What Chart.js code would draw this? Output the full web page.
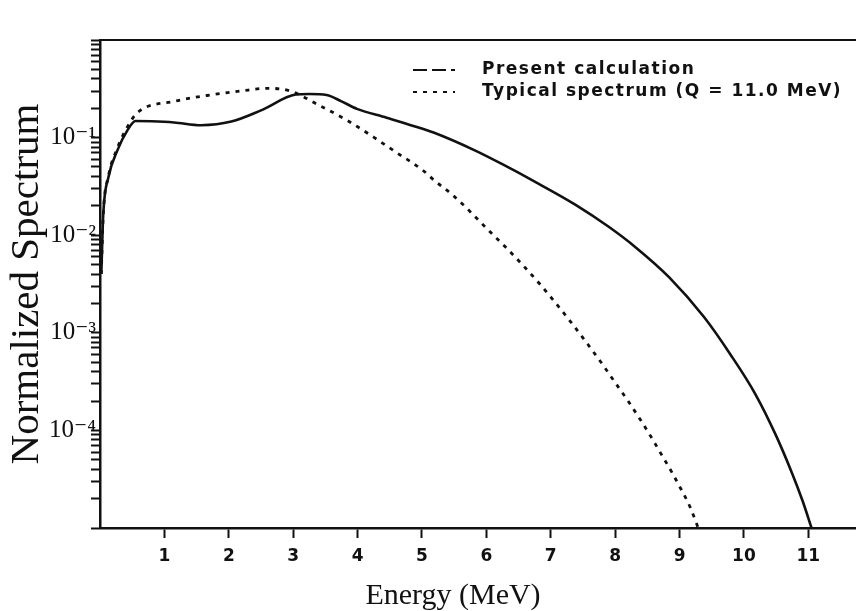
<!DOCTYPE html>
<html>
<head>
<meta charset="utf-8">
<script src="https://cdn.jsdelivr.net/npm/chart.js@4.4.1/dist/chart.umd.min.js"></script>
<style>
  body { margin: 0; background: #fff; }
  canvas { display: block; background: #fff; }
</style>
</head>
<body>
<canvas id="spectrumChart" width="856" height="611"></canvas>
<script>
// values
const presentEnergy = [0.02, 0.05, 0.13, 0.27, 0.43, 0.55, 0.8, 1.15, 1.57, 2.04, 2.5, 3.04, 3.25, 3.52, 3.75, 3.99, 4.45, 4.88, 5.19, 5.82, 6.24, 6.8, 7.38, 7.9, 8.32, 8.84, 9.38, 9.79, 10.17, 10.49, 10.75, 10.91, 11.05];
const presentValues = [0.004, 0.016, 0.039, 0.074, 0.12, 0.148, 0.147, 0.143, 0.134, 0.146, 0.19, 0.276, 0.28, 0.273, 0.235, 0.197, 0.16, 0.131, 0.112, 0.074, 0.0537, 0.034, 0.0206, 0.0122, 0.0075, 0.0037, 0.00145, 0.0006, 0.00024, 0.000091, 0.000036, 0.000019, 0.00001];

const typicalEnergy = [0.02, 0.05, 0.13, 0.27, 0.43, 0.58, 1.15, 1.66, 2.19, 2.59, 2.96, 3.37, 3.84, 4.26, 4.58, 5.0, 5.2, 5.47, 5.72, 5.99, 6.31, 6.57, 6.83, 7.02, 7.3, 7.6, 7.81, 8.0, 8.2, 8.39, 8.57, 8.73, 8.89, 9.03, 9.16, 9.29];
const typicalValues = [0.004, 0.016, 0.04, 0.078, 0.13, 0.18, 0.235, 0.27, 0.30, 0.32, 0.30, 0.22, 0.15, 0.10, 0.072, 0.047, 0.036, 0.026, 0.0182, 0.012, 0.00741, 0.0049, 0.00316, 0.00224, 0.00132, 0.000724, 0.000468, 0.000309, 0.0002, 0.000129, 0.0000832, 0.000055, 0.0000363, 0.0000245, 0.0000166, 0.00001];

const xTickLabels = ["", "1", "2", "3", "4", "5", "6", "7", "8", "9", "10", "11"];
const yDecades = [-5, -4, -3, -2, -1];
const yLabelExponents = [-1, -2, -3, -4];
const seriesLabels = ["Present calculation", "Typical spectrum (Q = 11.0 MeV)"];
const xAxisTitle = "Energy (MeV)";
const yAxisTitle = "Normalized Spectrum";

const ink = "#111";
const serif = "'Liberation Serif', 'DejaVu Serif', serif";

function toPairs(xs, ys) {
    return xs.map((x, i) => ({ x: x, y: ys[i] }));
}

function superscript(n) {
    const digits = "⁰¹²³⁴⁵⁶⁷⁸⁹";
    let s = String(Math.abs(n)).split("").map(d => digits[+d]).join("");
    return (n < 0 ? "⁻" : "") + s;
}

// top frame line and the x axis title (the title sits left of centre in the original)
const framePlugin = {
    id: "frame",
    afterDraw(chart) {
        const { ctx, chartArea } = chart;
        ctx.save();
        ctx.strokeStyle = ink;
        ctx.lineWidth = 2;
        ctx.beginPath();
        ctx.moveTo(chartArea.left, chartArea.top);
        ctx.lineTo(chartArea.right, chartArea.top);
        ctx.stroke();

        ctx.fillStyle = ink;
        ctx.font = "30px " + serif;
        ctx.textAlign = "center";
        ctx.textBaseline = "middle";
        ctx.fillText(xAxisTitle, 453, 596);
        ctx.restore();
    }
};

// legend placed inside the plot, upper right
const legendPlugin = {
    id: "insideLegend",
    afterDraw(chart) {
        const ctx = chart.ctx;
        const rows = [70, 92];
        ctx.save();
        ctx.font = "bold 17px 'DejaVu Sans', sans-serif";
        ctx.letterSpacing = "1.5px";
        ctx.fillStyle = ink;
        ctx.textBaseline = "middle";
        chart.data.datasets.forEach((ds, i) => {
            const y = rows[i];
            ctx.strokeStyle = ink;
            ctx.lineWidth = 2;
            ctx.setLineDash(i === 0 ? [14, 5] : [4, 6]);
            ctx.beginPath();
            ctx.moveTo(413, y);
            ctx.lineTo(455, y);
            ctx.stroke();
            ctx.setLineDash([]);
            ctx.fillText(ds.label, 482, y);
        });
        ctx.restore();
    }
};

const yTickValues = [];
yDecades.forEach(d => {
    for (let m = 1; m <= 9; m++) yTickValues.push(m * Math.pow(10, d));
});
yTickValues.push(1);

const xTickValues = [];
xTickLabels.forEach((label, i) => { if (label) xTickValues.push(i); });

new Chart(document.getElementById("spectrumChart"), {
    type: "line",
    data: {
        datasets: [
            {
                label: seriesLabels[0],
                data: toPairs(presentEnergy, presentValues),
                borderColor: ink,
                borderWidth: 2.6,
                pointRadius: 0,
                cubicInterpolationMode: "monotone",
                fill: false
            },
            {
                label: seriesLabels[1],
                data: toPairs(typicalEnergy, typicalValues),
                borderColor: ink,
                borderWidth: 2.8,
                borderDash: [4, 6],
                pointRadius: 0,
                cubicInterpolationMode: "monotone",
                fill: false
            }
        ]
    },
    options: {
        responsive: false,
        animation: false,
        layout: { padding: { top: 40, left: 0, right: 0, bottom: 0 } },
        plugins: {
            legend: { display: false },
            tooltip: { enabled: false }
        },
        scales: {
            x: {
                type: "linear",
                min: 0,
                max: 11.74,
                border: { display: true, color: ink, width: 2.5 },
                grid: { display: true, drawOnChartArea: false, drawTicks: true, tickLength: 10, tickWidth: 2, tickColor: ink },
                afterBuildTicks: function(scale) {
                    scale.ticks = xTickValues.map(v => ({ value: v }));
                },
                ticks: {
                    autoSkip: false,
                    maxRotation: 0,
                    padding: 8,
                    color: ink,
                    font: { family: "'DejaVu Sans', sans-serif", size: 17, weight: "bold" },
                    callback: function(value) {
                        return xTickLabels[Math.round(value)];
                    }
                },
                title: { display: false },
                afterFit: function(scale) { scale.height = 83; }
            },
            y: {
                type: "logarithmic",
                min: 1e-5,
                max: 1,
                border: { display: true, color: ink, width: 2.5 },
                grid: { display: true, drawOnChartArea: false, drawTicks: true, tickLength: 9, tickWidth: 2, tickColor: ink },
                afterBuildTicks: function(scale) {
                    scale.ticks = yTickValues.map(v => ({ value: v }));
                },
                ticks: {
                    autoSkip: false,
                    padding: -5,
                    color: ink,
                    font: { family: serif, size: 25 },
                    callback: function(value) {
                        const e = Math.round(Math.log10(value));
                        if (Math.abs(Math.log10(value) - e) > 1e-6) return "";
                        return yLabelExponents.includes(e) ? "10" + superscript(e) : "";
                    }
                },
                title: {
                    display: true,
                    text: yAxisTitle,
                    color: ink,
                    font: { family: serif, size: 41, lineHeight: 1 },
                    padding: { top: 7, bottom: 0 }
                },
                afterFit: function(scale) { scale.width = 100; }
            }
        }
    },
    plugins: [framePlugin, legendPlugin]
});
</script>
</body>
</html>
